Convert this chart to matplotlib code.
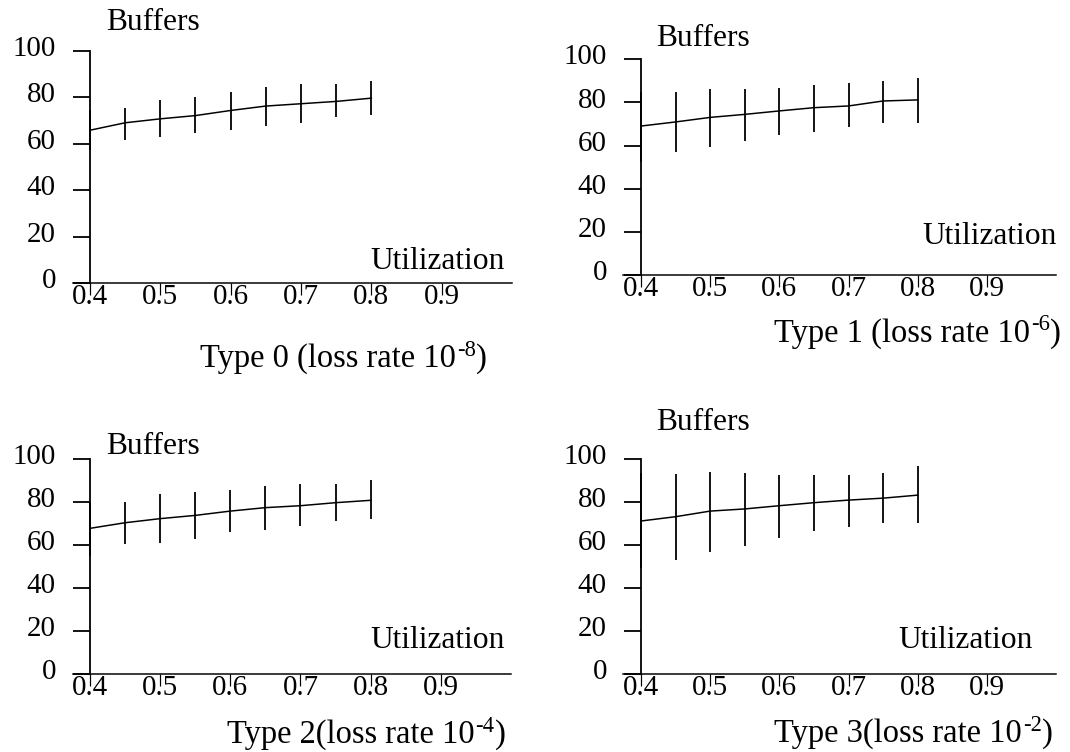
import matplotlib
matplotlib.use("Agg")
import matplotlib.pyplot as plt
from matplotlib.transforms import ScaledTranslation

plt.rcParams['font.family'] = ['Liberation Serif', 'DejaVu Serif']

# ---- data ----
util = [0.40, 0.45, 0.50, 0.55, 0.60, 0.65, 0.70, 0.75, 0.80]
x_ticks = [0.4, 0.5, 0.6, 0.7, 0.8, 0.9]
x_tick_labels = ["0.4", "0.5", "0.6", "0.7", "0.8", "0.9"]
y_ticks = [0, 20, 40, 60, 80, 100]
y_tick_labels = ["0", "20", "40", "60", "80", "100"]

type0_mean = [65.9, 69.1, 70.8, 72.2, 74.4, 76.3, 77.3, 78.3, 79.7]
type0_low = [57.3, 61.9, 63.0, 64.5, 65.9, 67.9, 68.8, 71.5, 72.4]
type0_high = [74.8, 75.5, 79.1, 80.4, 82.4, 84.6, 85.6, 85.6, 87.3]

type1_mean = [69.1, 71.0, 73.1, 74.5, 76.1, 77.6, 78.4, 80.7, 81.2]
type1_low = [52.6, 57.1, 59.6, 62.2, 65.0, 66.5, 68.7, 70.7, 70.7]
type1_high = [84.7, 84.7, 86.3, 86.3, 86.7, 88.1, 88.9, 90.0, 91.2]

type2_mean = [67.7, 70.3, 72.2, 73.7, 75.7, 77.3, 78.2, 79.6, 80.7]
type2_low = [55.0, 60.3, 60.7, 62.9, 65.8, 66.8, 68.8, 71.3, 71.9]
type2_high = [80.0, 79.8, 83.5, 84.4, 85.5, 87.5, 88.1, 88.1, 90.0]

type3_mean = [71.1, 73.1, 75.7, 76.7, 78.2, 79.6, 80.8, 81.7, 83.1]
type3_low = [49.3, 53.1, 56.6, 59.7, 63.4, 66.6, 68.3, 70.3, 70.3]
type3_high = [93.2, 92.7, 94.0, 93.5, 92.4, 92.4, 92.4, 93.5, 96.4]

title_main = ["Type 0 (loss rate 10", "Type 1 (loss rate 10",
              "Type 2(loss rate 10", "Type 3(loss rate 10"]
title_exp = ["-8", "-6", "-4", "-2"]

W, H = 1070, 752
DPI = 72
fig = plt.figure(figsize=(W / DPI, H / DPI), dpi=DPI)

panels = [
    dict(mean=type0_mean, low=type0_low, high=type0_high, yax=90, xs=73, xe=512, y0=283.3, y100=51,
         buf=(106, 23), utl=(505, 262), title=(200, 366.5)),
    dict(mean=type1_mean, low=type1_low, high=type1_high, yax=641, xs=623, xe=1056, y0=275.3, y100=59.3,
         buf=(656, 38), utl=(1057, 237), title=(774, 341.5)),
    dict(mean=type2_mean, low=type2_low, high=type2_high, yax=90, xs=73, xe=511, y0=674.3, y100=458.7,
         buf=(106, 447), utl=(505, 640), title=(227, 743)),
    dict(mean=type3_mean, low=type3_low, high=type3_high, yax=641, xs=623, xe=1056, y0=674.3, y100=458.7,
         buf=(656, 423), utl=(1033, 640), title=(774, 742)),
]

TICK_FS = 29
LABEL_FS = 31.5
TITLE_FS = 32.5
SUP_FS = 22.5
renderer = fig.canvas.get_renderer()
for p, tmain, texp in zip(panels, title_main, title_exp):
    left = p['xs'] / W
    width = (p['xe'] - p['xs']) / W
    bottom = 1 - p['y0'] / H
    height = (p['y0'] - p['y100']) / H
    ax = fig.add_axes([left, bottom, width, height])
    xmin = 0.4 - (p['yax'] - p['xs']) / (p['xe'] - p['yax']) * 0.6
    ax.set_xlim(xmin, 1.0)
    ax.set_ylim(0, 100)
    ax.patch.set_alpha(0)
    for s in ['top', 'right']:
        ax.spines[s].set_visible(False)
    ax.spines['left'].set_position(('data', 0.4))
    ax.spines['left'].set_linewidth(1.8)
    ax.spines['bottom'].set_linewidth(1.5)

    ax.set_yticks(y_ticks)
    ax.set_yticklabels(y_tick_labels, fontsize=TICK_FS)
    ax.tick_params(axis='y', direction='out', length=17, width=1.8, pad=17)
    off = ScaledTranslation(0, 5 / DPI, fig.dpi_scale_trans)
    for lab in ax.get_yticklabels():
        lab.set_transform(lab.get_transform() + off)

    ax.set_xticks(x_ticks)
    ax.set_xticklabels(x_tick_labels, fontsize=TICK_FS)
    ax.tick_params(axis='x', direction='out', length=12, width=1.2, pad=-11)

    m = p['mean']
    yerr = [[mm - lo for mm, lo in zip(m, p['low'])], [hi - mm for mm, hi in zip(m, p['high'])]]
    ax.errorbar(util, m, yerr=yerr, color='black', lw=1.5, elinewidth=1.8, capsize=0, clip_on=False)

    fig.text(p['buf'][0] / W, 1 - p['buf'][1] / H, "Buffers", fontsize=LABEL_FS, ha='left', va='center')
    fig.text(p['utl'][0] / W, 1 - p['utl'][1] / H, "Utilization", fontsize=LABEL_FS, ha='right', va='center')

    # title with superscript exponent, chained left to right
    base = H - p['title'][1]
    t1 = fig.text(p['title'][0] / W, base / H, tmain, fontsize=TITLE_FS, ha='left', va='baseline')
    x1 = t1.get_window_extent(renderer).x1
    t2 = fig.text((x1 + 1) / W, (base + 11) / H, texp, fontsize=SUP_FS, ha='left', va='baseline')
    x2 = t2.get_window_extent(renderer).x1
    fig.text(x2 / W, base / H, ")", fontsize=TITLE_FS, ha='left', va='baseline')

fig.savefig("out.png", dpi=DPI)
